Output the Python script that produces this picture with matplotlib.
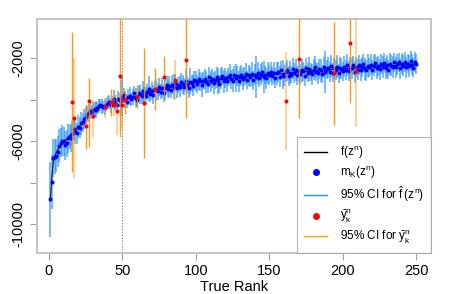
import numpy as np
import matplotlib
matplotlib.use("Agg")
import matplotlib.pyplot as plt
from matplotlib.lines import Line2D

plt.rcParams["font.family"] = ["Liberation Sans", "DejaVu Sans"]
plt.rcParams["mathtext.fontset"] = "custom"
plt.rcParams["mathtext.rm"] = "Liberation Sans"
plt.rcParams["mathtext.it"] = "Liberation Sans"
plt.rcParams["mathtext.bf"] = "Liberation Sans"

# smooth function f(z^n) read at a few ranks
f_rank = [1, 2, 3, 4, 5, 6, 8, 10, 12, 15, 20, 25, 30, 35, 40, 50, 60, 70,
          80, 90, 100, 120, 140, 160, 180, 200, 220, 250]
f_vals = [-8800, -7700, -7000, -6700, -6550, -6400, -6200, -6050, -5900,
          -5700, -5350, -4900, -4550, -4350, -4200, -4000, -3820, -3620,
          -3440, -3300, -3180, -3000, -2870, -2740, -2620, -2520, -2420, -2290]

# estimates m_K(z^n) for ranks 1..250
m_vals = [
    -8800, -7950, -6820, -6750, -6700, -6520, -6230, -6080, -5990, -6000,
    -6190, -6100, -5870, -5770, -5870, -5650, -5420, -5560, -5620, -5300,
    -5360, -5150, -5100, -4930, -4820, -4700, -4640, -4540, -4600, -4520,
    -4460, -4490, -4400, -4300, -4270, -4330, -4350, -4380, -4240, -4140,
    -4120, -4280, -4110, -3970, -4140, -4260, -3970, -4030, -4090, -3880,
    -3780, -3990, -4100, -3890, -3830, -3990, -3870, -3690, -3900, -4020,
    -3690, -3750, -3850, -3600, -3740, -3830, -3620, -3470, -3720, -3600,
    -3760, -3480, -3530, -3600, -3400, -3620, -3420, -3670, -3450, -3280,
    -3500, -3360, -3540, -3290, -3380, -3180, -3460, -3300, -3370, -3150,
    -3270, -3390, -3090, -3290, -3430, -3150, -3220, -3330, -3070, -3120,
    -3260, -3020, -3120, -3310, -3080, -3020, -3160, -3230, -2910, -3110,
    -3000, -3220, -3050, -2930, -3110, -3240, -2980, -2860, -3110, -2970,
    -3120, -2920, -2800, -3020, -3080, -2820, -2960, -2850, -3110, -2890,
    -2820, -3000, -2890, -2750, -3040, -2830, -2920, -2750, -3070, -2800,
    -2910, -2710, -2970, -2800, -2650, -2920, -2810, -2970, -2700, -2820,
    -2670, -2860, -2720, -2960, -2740, -2670, -2890, -2580, -2790, -2840,
    -2680, -2590, -2880, -2700, -2790, -2510, -2720, -2590, -2830, -2620,
    -2780, -2590, -2630, -2850, -2500, -2700, -2520, -2660, -2780, -2550,
    -2440, -2650, -2730, -2510, -2590, -2760, -2450, -2660, -2540, -2460,
    -2660, -2400, -2710, -2500, -2580, -2410, -2740, -2460, -2510, -2630,
    -2420, -2570, -2340, -2630, -2460, -2500, -2340, -2660, -2420, -2560,
    -2330, -2570, -2430, -2260, -2520, -2590, -2360, -2450, -2310, -2580,
    -2360, -2240, -2500, -2380, -2540, -2290, -2430, -2240, -2500, -2350,
    -2560, -2280, -2360, -2420, -2200, -2450, -2300, -2210, -2490, -2260,
    -2360, -2180, -2440, -2260, -2390, -2130, -2310, -2460, -2190, -2270,
]

# half widths of the 95% CI for f-hat
m_half = [
    1800, 1300, 900, 850, 800, 750, 800, 700, 750, 700,
    700, 650, 700, 600, 650, 600, 550, 600, 500, 550,
    500, 550, 450, 500, 450, 400, 450, 400, 350, 400,
    350, 400, 300, 350, 300, 350, 300, 350, 300, 300,
    330, 380, 300, 420, 350, 310, 400, 340, 370, 900,
    360, 420, 310, 380, 450, 330, 400, 360, 480, 340,
    400, 450, 350, 520, 380, 420, 360, 600, 390, 440,
    460, 380, 520, 410, 450, 360, 480, 430, 550, 400,
    420, 500, 380, 460, 600, 420, 470, 390, 510, 440,
    480, 410, 560, 430, 470, 650, 400, 520, 450, 480,
    440, 510, 460, 580, 420, 490, 530, 440, 470, 500,
    460, 530, 420, 490, 620, 450, 500, 430, 560, 470,
    520, 440, 500, 470, 540, 430, 680, 480, 510, 450,
    480, 530, 460, 500, 440, 520, 470, 580, 450, 500,
    1000, 540, 430, 510, 480, 760, 450, 500, 530, 470,
    500, 440, 520, 480, 560, 460, 510, 440, 700, 490,
    460, 520, 480, 550, 430, 500, 470, 530, 460, 510,
    480, 540, 450, 500, 520, 470, 560, 440, 510, 490,
    520, 460, 500, 480, 540, 450, 510, 1000, 470, 500,
    490, 530, 460, 510, 480, 550, 470, 500, 520, 460,
    510, 480, 540, 470, 500, 520, 460, 530, 490, 510,
    480, 530, 500, 460, 520, 490, 540, 470, 510, 480,
    500, 460, 530, 490, 510, 470, 540, 480, 500, 520,
    470, 510, 490, 530, 460, 500, 520, 480, 510, 490,
    520, 480, 500, 460, 530, 490, 510, 470, 500, 480,
]

# sample means y-bar_k^n with their 95% CI
y_rank = [16, 17, 25, 27, 30, 38, 42, 44, 46, 48, 50, 52, 60, 65, 72, 78,
          86, 93, 161, 170, 194, 205, 209]
y_vals = [-4100, -4900, -5270, -4060, -4800, -4350, -4100, -4250, -4550,
          -2870, -4260, -4000, -3880, -4140, -3500, -2900, -3060, -2100,
          -4080, -2050, -2700, -1280, -2610]
y_lo = [-7500, -7800, -6400, -6300, -5800, -4900, -4800, -4800, -5700,
        -5800, -5400, -4700, -4400, -6800, -4500, -3930, -4000, -4870,
        -6420, -4890, -5220, -4150, -5330]
y_hi = [-750, -2000, -4200, -2960, -4000, -3900, -3500, -3700, -3800,
        0, -3500, -3600, -3300, -1530, -2500, -1900, -2100, 0,
        -1720, 0, -280, 0, 0]
y_pale = [0, 1, 0, 0, 1, 1, 0, 1, 1, 0, 1, 0, 0, 0, 0, 0, 1, 0, 1, 0, 0, 0, 1]

ranks = np.arange(1, len(m_vals) + 1)
m_arr = np.array(m_vals)
h_arr = np.array(m_half)

fig = plt.figure(figsize=(4.5, 2.94), dpi=100)
ax = fig.add_axes([0.082, 0.139, 0.876, 0.796])

ax.vlines(ranks, m_arr - h_arr, m_arr + h_arr, color="#1E90FF",
          alpha=0.7, lw=1.2, zorder=2)
ax.plot(f_rank, f_vals, color="#1a1a1a", lw=0.8, zorder=3)
ax.plot(ranks, m_arr, "o", color="#0000FF", ms=2.9, mew=0, zorder=4)

for r, lo, hi, pale in zip(y_rank, y_lo, y_hi, y_pale):
    ax.vlines(r, lo, hi, color="#FF8C00", alpha=0.45 if pale else 0.9,
              lw=1.3 if pale else 1.0, zorder=5)
ax.plot(y_rank, y_vals, "o", color="#FF0000", ms=2.9, mew=0, zorder=6)

ax.axvline(50, color="grey", lw=0.7, ls=(0, (1.5, 1.5)), zorder=1)

ax.set_xlim(-8.2, 260)
ax.set_ylim(-11400, -120)
ax.set_xticks([0, 50, 100, 150, 200, 250])
ax.set_yticks([-10000, -8000, -6000, -4000, -2000])
ax.set_yticklabels(["-10000", "", "-6000", "", "-2000"], rotation=90,
                   va="center")
ax.tick_params(labelsize=10.5, length=5, color="#a0a0a0", pad=3)
for s in ax.spines.values():
    s.set_color("#c0c0c0")
    s.set_linewidth(1.3)
ax.set_xlabel("True Rank", fontsize=10.5, labelpad=1)

handles = [
    Line2D([], [], color="black", lw=1),
    Line2D([], [], ls="none", marker="o", color="#0000FF", ms=4),
    Line2D([], [], color="#1E90FF", lw=1),
    Line2D([], [], ls="none", marker="o", color="#FF0000", ms=4),
    Line2D([], [], color="#FFA500", lw=1),
]
labels = [r"$f(z^n)$", r"$m_K(z^n)$", r"95% CI for $\hat{f}\,(z^n)$",
          r"$\bar{y}_k^n$", r"95% CI for $\bar{y}_k^n$"]
leg = ax.legend(handles, labels, loc="lower right", fontsize=8.5,
                frameon=True, fancybox=False, borderaxespad=0,
                handlelength=2.0, labelspacing=0.3, borderpad=0.6,
                handletextpad=1.05)
leg.get_frame().set_edgecolor("#a0a0a0")
leg.get_frame().set_linewidth(0.8)
leg.set_zorder(10)

fig.savefig("out.png", dpi=100)
